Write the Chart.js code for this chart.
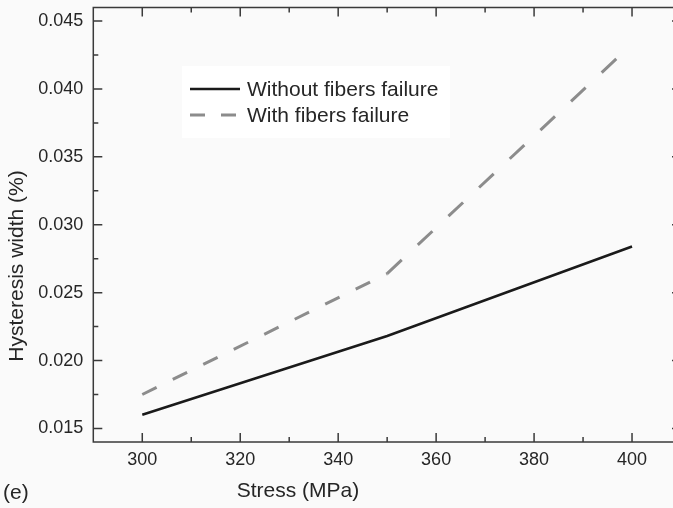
<!DOCTYPE html>
<html>
<head>
<meta charset="utf-8">
<script src="https://cdn.jsdelivr.net/npm/chart.js@4.4.1/dist/chart.umd.min.js"></script>
<style>
  html, body { margin: 0; padding: 0; overflow: hidden; background: #fafafa; }
  #wrap { position: relative; width: 690px; height: 508px; }
</style>
</head>
<body>
<div id="wrap"><canvas id="c"></canvas></div>
<script>
// Hysteresis loop width versus peak stress
const stress = [300, 350, 400];
const withoutFibersFailure = [0.0160, 0.0218, 0.0284];
const withFibersFailure = [0.0175, 0.0264, 0.0433];
const seriesNames = ['Without fibers failure', 'With fibers failure'];
const xTicks = [300, 320, 340, 360, 380, 400];
const xMinorTicks = [310, 330, 350, 370, 390];
const yTicks = [0.015, 0.020, 0.025, 0.030, 0.035, 0.040, 0.045];
const yMinorTicks = [0.0175, 0.0225, 0.0275, 0.0325, 0.0375, 0.0425];
const xTitle = 'Stress (MPa)';
const yTitle = 'Hysteresis width (%)';
const panelTag = '(e)';

const FONT = '"Liberation Sans", Arial, Helvetica, sans-serif';
const INK = '#262626';
const AXIS = '#3a3a3a';

Chart.defaults.font.family = FONT;

const toPoints = (xs, ys) => xs.map((x, i) => ({ x: x, y: ys[i] }));

// Frame with inward major/minor ticks on all four sides
const framePlugin = {
  id: 'frame',
  afterDraw(chart) {
    const { ctx, chartArea: a, scales: { x, y } } = chart;
    ctx.save();
    ctx.strokeStyle = AXIS;
    ctx.lineWidth = 1.5;
    ctx.strokeRect(a.left, a.top, a.right - a.left, a.bottom - a.top);
    const major = 9, minor = 5;
    ctx.beginPath();
    const xt = (v, len) => {
      const px = x.getPixelForValue(v);
      ctx.moveTo(px, a.bottom); ctx.lineTo(px, a.bottom - len);
      ctx.moveTo(px, a.top); ctx.lineTo(px, a.top + len);
    };
    const yt = (v, len) => {
      const py = y.getPixelForValue(v);
      ctx.moveTo(a.left, py); ctx.lineTo(a.left + len, py);
      ctx.moveTo(a.right, py); ctx.lineTo(a.right - len, py);
    };
    xTicks.forEach(v => xt(v, major));
    xMinorTicks.forEach(v => xt(v, minor));
    yTicks.forEach(v => yt(v, major));
    yMinorTicks.forEach(v => yt(v, minor));
    ctx.stroke();
    ctx.restore();
  }
};

// Legend box inside the plot
const legendPlugin = {
  id: 'innerLegend',
  afterDatasetsDraw(chart) {
    const { ctx } = chart;
    ctx.save();
    ctx.fillStyle = '#ffffff';
    ctx.fillRect(182, 66, 268, 72);
    const rows = [89, 115];
    chart.data.datasets.forEach((ds, i) => {
      const yy = rows[i];
      ctx.strokeStyle = ds.borderColor;
      ctx.lineWidth = ds.borderWidth;
      ctx.lineCap = 'butt';
      ctx.setLineDash(i === 0 ? [] : [15, 16]);
      ctx.beginPath();
      ctx.moveTo(190, yy);
      ctx.lineTo(240, yy);
      ctx.stroke();
      ctx.setLineDash([]);
      ctx.fillStyle = INK;
      ctx.font = '21px ' + FONT;
      ctx.textAlign = 'left';
      ctx.textBaseline = 'middle';
      ctx.fillText(ds.label, 247, yy + 1);
    });
    ctx.restore();
  }
};

// Axis titles and panel tag
const titlesPlugin = {
  id: 'titles',
  afterDraw(chart) {
    const { ctx } = chart;
    ctx.save();
    ctx.fillStyle = INK;
    ctx.font = '21px ' + FONT;
    ctx.textBaseline = 'middle';
    ctx.textAlign = 'center';
    ctx.fillText(xTitle, 298, 491);
    ctx.save();
    ctx.translate(17, 266);
    ctx.rotate(-Math.PI / 2);
    ctx.fillText(yTitle, 0, 0);
    ctx.restore();
    ctx.textAlign = 'left';
    ctx.fillText(panelTag, 3, 493);
    ctx.restore();
  }
};

new Chart(document.getElementById('c'), {
  type: 'line',
  data: {
    datasets: [
      {
        label: seriesNames[0],
        data: toPoints(stress, withoutFibersFailure),
        borderColor: '#1a1a1a',
        borderWidth: 2.6,
        pointRadius: 0,
        tension: 0,
        fill: false
      },
      {
        label: seriesNames[1],
        data: toPoints(stress, withFibersFailure),
        borderColor: '#8c8c8c',
        borderWidth: 3,
        borderCapStyle: 'butt',
        pointRadius: 0,
        tension: 0,
        fill: false,
        segment: {
          borderDash: ctx => ctx.p0DataIndex === 0 ? [16, 18] : [20, 22]
        }
      }
    ]
  },
  plugins: [framePlugin, legendPlugin, titlesPlugin],
  options: {
    responsive: true,
    maintainAspectRatio: false,
    animation: false,
    layout: { padding: { top: 7.5, right: 9, left: 0, bottom: 0 } },
    plugins: {
      legend: { display: false },
      tooltip: { enabled: false }
    },
    scales: {
      x: {
        type: 'linear',
        min: 290,
        max: 410,
        afterBuildTicks: s => { s.ticks = xTicks.map(v => ({ value: v })); },
        afterFit: s => {
          s.height = 66;
          s.paddingLeft = 0;
          s.paddingRight = 0;
        },
        grid: { display: false, drawTicks: false },
        border: { display: false },
        ticks: {
          padding: 7,
          color: INK,
          font: { size: 18, family: FONT },
          maxRotation: 0,
          callback: v => String(v)
        }
      },
      y: {
        type: 'linear',
        min: 0.014,
        max: 0.046,
        afterBuildTicks: s => { s.ticks = yTicks.map(v => ({ value: v })); },
        afterFit: s => {
          s.width = 93.3;
          s.paddingTop = 0;
          s.paddingBottom = 0;
        },
        grid: { display: false, drawTicks: false },
        border: { display: false },
        ticks: {
          padding: 10,
          color: INK,
          font: { size: 18, family: FONT },
          callback: v => v.toFixed(3)
        }
      }
    }
  }
});
</script>
</body>
</html>
